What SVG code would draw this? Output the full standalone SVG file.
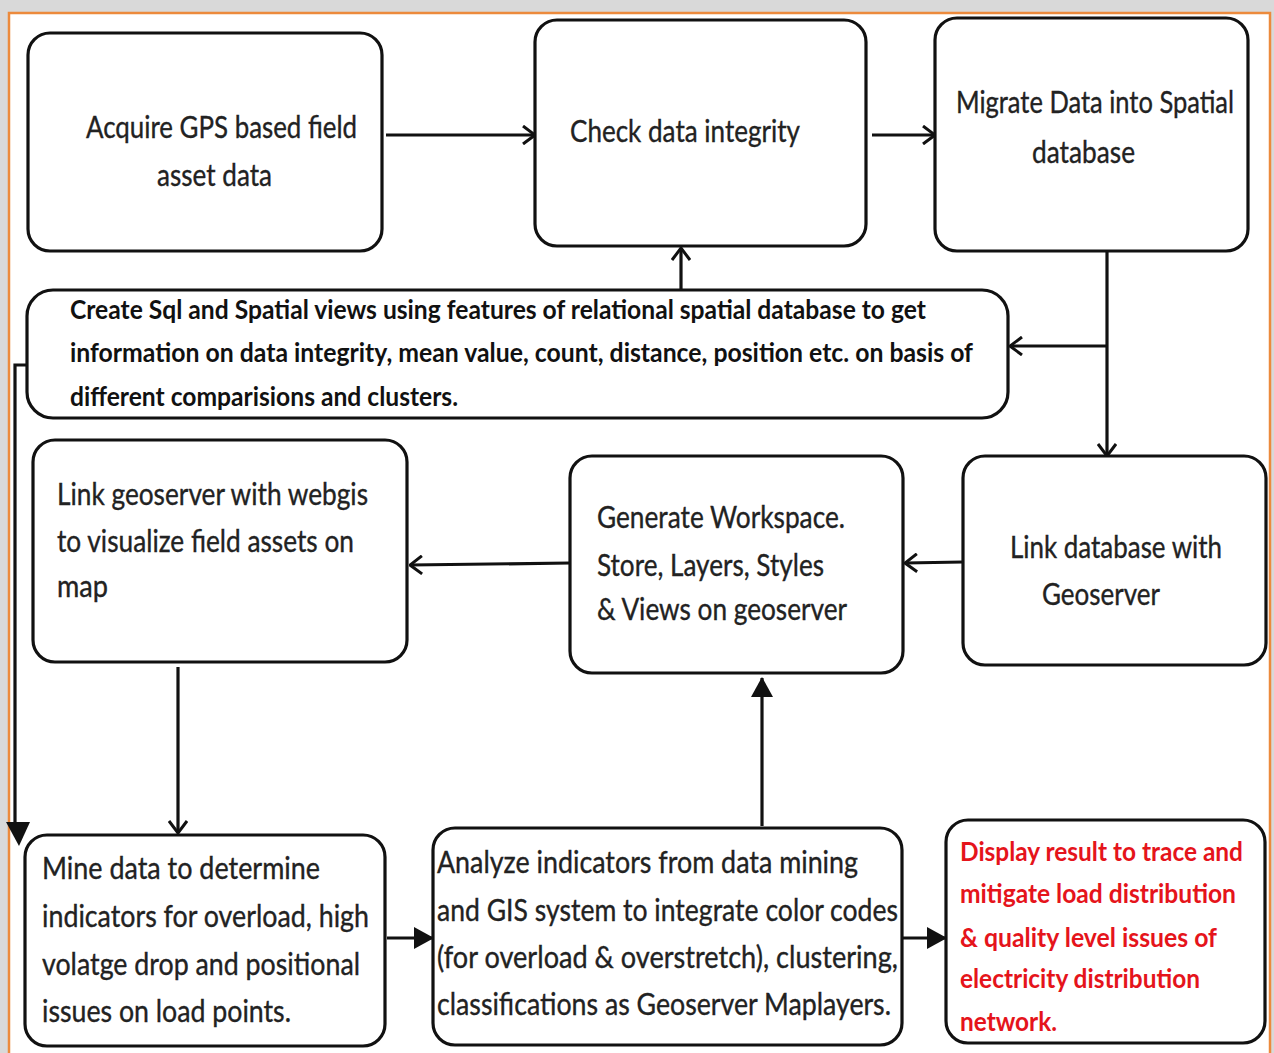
<svg xmlns="http://www.w3.org/2000/svg" width="1274" height="1053" viewBox="0 0 1274 1053">
<defs>
<style>
.box{fill:#fff;stroke:#111;stroke-width:3.2}
.t{font-family:Lato,"Open Sans",sans-serif;font-size:30px;fill:#222;stroke:#222;stroke-width:0.35}
.b{font-family:Lato,"Open Sans",sans-serif;font-size:26px;font-weight:bold;fill:#111}
.r{font-family:Lato,"Open Sans",sans-serif;font-size:27px;font-weight:bold;fill:#e5141b}
.c{fill:none;stroke:#111;stroke-width:3.2}
</style>
<marker id="open" markerUnits="userSpaceOnUse" viewBox="0 0 14 20" refX="13" refY="10" markerWidth="14" markerHeight="20" orient="auto">
<path d="M1,1 L13,10 L1,19" fill="none" stroke="#111" stroke-width="3"/>
</marker>
<marker id="fill" markerUnits="userSpaceOnUse" viewBox="0 0 20 22" refX="19" refY="11" markerWidth="20" markerHeight="22" orient="auto">
<path d="M0,0 L20,11 L0,22 Z" fill="#111"/>
</marker>
</defs>
<rect x="0" y="0" width="1274" height="1053" fill="#d9d9d9"/>
<rect x="9" y="13" width="1261" height="1050" fill="#fff" stroke="#ec8a3c" stroke-width="2.5"/>

<g id="connectors">
<line class="c" x1="386" y1="135" x2="535" y2="135" marker-end="url(#open)"/>
<line class="c" x1="872" y1="135" x2="935" y2="135" marker-end="url(#open)"/>
<line class="c" x1="1107" y1="252" x2="1107" y2="456" marker-end="url(#open)"/>
<line class="c" x1="1107" y1="346" x2="1010" y2="346" marker-end="url(#open)"/>
<line class="c" x1="681" y1="290" x2="681" y2="248" marker-end="url(#open)"/>
<polyline class="c" points="27,365 15,365 15,824"/>
<path d="M6,822 L30,822 L19,846 Z" fill="#111"/>
<line class="c" x1="963" y1="562" x2="905" y2="563" marker-end="url(#open)"/>
<line class="c" x1="570" y1="563" x2="410" y2="565" marker-end="url(#open)"/>
<line class="c" x1="178" y1="667" x2="178" y2="833" marker-end="url(#open)"/>
<line class="c" x1="387" y1="938" x2="433" y2="938" marker-end="url(#fill)"/>
<line class="c" x1="762" y1="826" x2="762" y2="678" marker-end="url(#fill)"/>
<line class="c" x1="903" y1="938" x2="946" y2="938" marker-end="url(#fill)"/>
</g>

<g id="acquire">
<rect class="box" x="28" y="33" width="354" height="218" rx="22"/>
<text class="t" x="86" y="138" textLength="271" lengthAdjust="spacingAndGlyphs">Acquire GPS based field</text>
<text class="t" x="157" y="186" textLength="115" lengthAdjust="spacingAndGlyphs">asset data</text>
</g>

<g id="check">
<rect class="box" x="535" y="20" width="331" height="226" rx="22"/>
<text class="t" x="570" y="142" textLength="230" lengthAdjust="spacingAndGlyphs">Check data integrity</text>
</g>

<g id="migrate">
<rect class="box" x="935" y="18" width="313" height="233" rx="22"/>
<text class="t" transform="translate(956,113) scale(0.84,1)" x="0" y="0" textLength="331" lengthAdjust="spacingAndGlyphs">Migrate Data into Spatial</text>
<text class="t" x="1032" y="163" textLength="103" lengthAdjust="spacingAndGlyphs">database</text>
</g>

<g id="create-views">
<rect class="box" x="27" y="290" width="981" height="128" rx="26"/>
<text class="b" x="70" y="319" textLength="856" lengthAdjust="spacingAndGlyphs">Create Sql and Spatial views using features of relational spatial database to get</text>
<text class="b" x="70" y="362" textLength="903" lengthAdjust="spacingAndGlyphs">information on data integrity, mean value, count, distance, position etc. on basis of</text>
<text class="b" x="70" y="406" textLength="388" lengthAdjust="spacingAndGlyphs">different comparisions and clusters.</text>
</g>

<g id="link-webgis">
<rect class="box" x="33" y="440" width="374" height="222" rx="22"/>
<text class="t" x="57" y="505" textLength="311" lengthAdjust="spacingAndGlyphs">Link geoserver with webgis</text>
<text class="t" x="57" y="552" textLength="297" lengthAdjust="spacingAndGlyphs">to visualize field assets on</text>
<text class="t" x="57" y="597" textLength="51" lengthAdjust="spacingAndGlyphs">map</text>
</g>

<g id="generate">
<rect class="box" x="570" y="456" width="333" height="217" rx="22"/>
<text class="t" x="597" y="528" textLength="248" lengthAdjust="spacingAndGlyphs">Generate Workspace.</text>
<text class="t" x="597" y="576" textLength="227" lengthAdjust="spacingAndGlyphs">Store, Layers, Styles</text>
<text class="t" x="597" y="620" textLength="250" lengthAdjust="spacingAndGlyphs">&amp; Views on geoserver</text>
</g>

<g id="link-database">
<rect class="box" x="963" y="456" width="303" height="209" rx="22"/>
<text class="t" x="1010" y="558" textLength="212" lengthAdjust="spacingAndGlyphs">Link database with</text>
<text class="t" x="1042" y="605" textLength="118" lengthAdjust="spacingAndGlyphs">Geoserver</text>
</g>

<g id="mine">
<rect class="box" x="25" y="835" width="360" height="211" rx="22"/>
<text class="t" x="42" y="879" textLength="278" lengthAdjust="spacingAndGlyphs">Mine data to determine</text>
<text class="t" x="42" y="927" textLength="327" lengthAdjust="spacingAndGlyphs">indicators for overload, high</text>
<text class="t" x="42" y="975" textLength="318" lengthAdjust="spacingAndGlyphs">volatge drop and positional</text>
<text class="t" x="42" y="1022" textLength="249" lengthAdjust="spacingAndGlyphs">issues on load points.</text>
</g>

<g id="analyze">
<rect class="box" x="433" y="828" width="469" height="217" rx="22"/>
<text class="t" x="437" y="873" textLength="421" lengthAdjust="spacingAndGlyphs">Analyze indicators from data mining</text>
<text class="t" x="437" y="921" textLength="461" lengthAdjust="spacingAndGlyphs">and GIS system to integrate color codes</text>
<text class="t" x="437" y="968" textLength="461" lengthAdjust="spacingAndGlyphs">(for overload &amp; overstretch), clustering,</text>
<text class="t" x="437" y="1015" textLength="454" lengthAdjust="spacingAndGlyphs">classifications as Geoserver Maplayers.</text>
</g>

<g id="display">
<rect class="box" x="946" y="820" width="319" height="223" rx="22"/>
<text class="r" x="960" y="861" textLength="283" lengthAdjust="spacingAndGlyphs">Display result to trace and</text>
<text class="r" x="960" y="903" textLength="276" lengthAdjust="spacingAndGlyphs">mitigate load distribution</text>
<text class="r" x="960" y="947" textLength="257" lengthAdjust="spacingAndGlyphs">&amp; quality level issues of</text>
<text class="r" x="960" y="988" textLength="240" lengthAdjust="spacingAndGlyphs">electricity distribution</text>
<text class="r" x="960" y="1031" textLength="97" lengthAdjust="spacingAndGlyphs">network.</text>
</g>
</svg>
